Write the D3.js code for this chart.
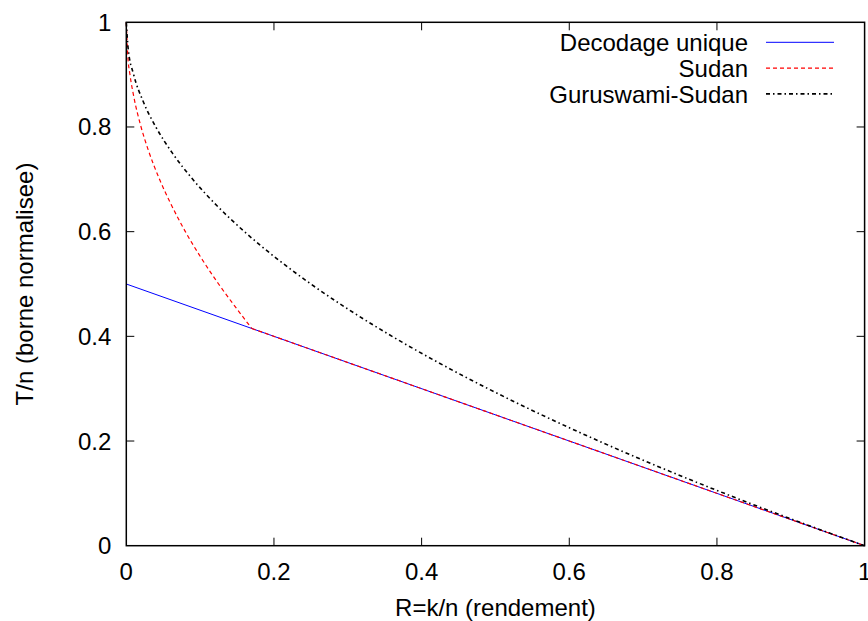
<!DOCTYPE html>
<html>
<head>
<meta charset="utf-8">
<script src="https://cdn.jsdelivr.net/npm/d3@7"></script>
<style>
  body { margin: 0; background: #fff; }
  svg text { font-family: "Liberation Sans", Arial, Helvetica, sans-serif; fill: #000; }
</style>
</head>
<body>
<div id="chart"></div>
<script>
// series values (R = k/n, T/n)
const uniqueR = [0, 1];
const uniqueT = [0.5, 0];

// Sudan: curved part, then it follows the unique-decoding line
const sudanR = [0, 0.002, 0.005, 0.01, 0.02, 0.03, 0.045, 0.06, 0.08, 0.1, 0.125, 0.15, 0.17];
const sudanT = [1, 0.937, 0.9, 0.859, 0.8, 0.755, 0.7, 0.654, 0.6, 0.553, 0.5, 0.452, 0.415];
const sudanTailR = [0.17, 1];
const sudanTailT = [0.415, 0];

const gsR = [0, 0.0025, 0.01, 0.0225, 0.04, 0.0625, 0.09, 0.1225, 0.16, 0.2025, 0.25, 0.3025, 0.36, 0.4225, 0.49, 0.5625, 0.64, 0.7225, 0.81, 0.9025, 1];
const gsT = [1, 0.95, 0.9, 0.85, 0.8, 0.75, 0.7, 0.65, 0.6, 0.55, 0.5, 0.45, 0.4, 0.35, 0.3, 0.25, 0.2, 0.15, 0.1, 0.05, 0];

const xTicks = [0, 0.2, 0.4, 0.6, 0.8, 1];
const yTicks = [0, 0.2, 0.4, 0.6, 0.8, 1];
const legendNames = ['Decodage unique', 'Sudan', 'Guruswami-Sudan'];

const width = 868, height = 621;
const margin = { left: 126.3, right: 3.4, top: 22.3, bottom: 75.3 };
const fontSize = 24;

const svg = d3.select('#chart').append('svg')
  .attr('width', width)
  .attr('height', height);

const x = d3.scaleLinear().domain([0, 1]).range([margin.left, width - margin.right]);
const y = d3.scaleLinear().domain([0, 1]).range([height - margin.bottom, margin.top]);

const tickLen = 8;

// ticks (inward, mirrored on all four sides)
const ticks = svg.append('g').attr('stroke', '#000').attr('stroke-width', 1);
xTicks.slice(1, -1).forEach(t => {
  ticks.append('line').attr('x1', x(t)).attr('x2', x(t)).attr('y1', y(0)).attr('y2', y(0) - tickLen);
  ticks.append('line').attr('x1', x(t)).attr('x2', x(t)).attr('y1', y(1)).attr('y2', y(1) + tickLen);
});
yTicks.slice(1, -1).forEach(t => {
  ticks.append('line').attr('y1', y(t)).attr('y2', y(t)).attr('x1', x(0)).attr('x2', x(0) + tickLen);
  ticks.append('line').attr('y1', y(t)).attr('y2', y(t)).attr('x1', x(1)).attr('x2', x(1) - tickLen);
});

// tick labels
svg.append('g').selectAll('text').data(xTicks).enter().append('text')
  .attr('x', d => x(d))
  .attr('y', y(0) + 34)
  .attr('text-anchor', 'middle')
  .attr('font-size', fontSize)
  .text(d => d3.format('~g')(d));

svg.append('g').selectAll('text').data(yTicks).enter().append('text')
  .attr('x', x(0) - 15)
  .attr('y', d => y(d) + 8.5)
  .attr('text-anchor', 'end')
  .attr('font-size', fontSize)
  .text(d => d3.format('~g')(d));

// axis titles
svg.append('text')
  .attr('x', (x(0) + x(1)) / 2)
  .attr('y', 616)
  .attr('text-anchor', 'middle')
  .attr('font-size', fontSize)
  .text('R=k/n (rendement)');

svg.append('text')
  .attr('transform', `translate(33,${(y(0) + y(1)) / 2}) rotate(-90)`)
  .attr('text-anchor', 'middle')
  .attr('font-size', fontSize)
  .text('T/n (borne normalisee)');

// curves
const line = d3.line()
  .x(d => x(d[0]))
  .y(d => y(d[1]))
  .curve(d3.curveMonotoneX);

const styles = [
  { color: '#0000ff', dash: null, w: 1 },
  { color: '#ff0000', dash: '4,3', w: 1.2 },
  { color: '#000000', dash: '4,3,1.5,3', w: 1.6 }
];

const series = [
  [d3.zip(uniqueR, uniqueT)],
  [d3.zip(sudanR, sudanT), d3.zip(sudanTailR, sudanTailT)],
  [d3.zip(gsR, gsT)]
];

const plot = svg.append('g');
series.forEach((parts, i) => {
  parts.forEach(pts => {
    plot.append('path')
      .datum(pts)
      .attr('fill', 'none')
      .attr('stroke', styles[i].color)
      .attr('stroke-width', styles[i].w)
      .attr('stroke-dasharray', styles[i].dash)
      .attr('d', line);
  });
});

// frame
svg.append('rect')
  .attr('x', x(0)).attr('y', y(1))
  .attr('width', x(1) - x(0)).attr('height', y(0) - y(1))
  .attr('fill', 'none')
  .attr('stroke', '#000')
  .attr('stroke-width', 1.5);

// legend
const legend = svg.append('g');
legendNames.forEach((name, i) => {
  const ly = 42.3 + i * 25.8;
  legend.append('text')
    .attr('x', 748)
    .attr('y', ly + 8.7)
    .attr('text-anchor', 'end')
    .attr('font-size', fontSize)
    .text(name);
  legend.append('line')
    .attr('x1', 766).attr('x2', 834)
    .attr('y1', ly).attr('y2', ly)
    .attr('stroke', styles[i].color)
    .attr('stroke-width', styles[i].w)
    .attr('stroke-dasharray', styles[i].dash);
});
</script>
</body>
</html>
